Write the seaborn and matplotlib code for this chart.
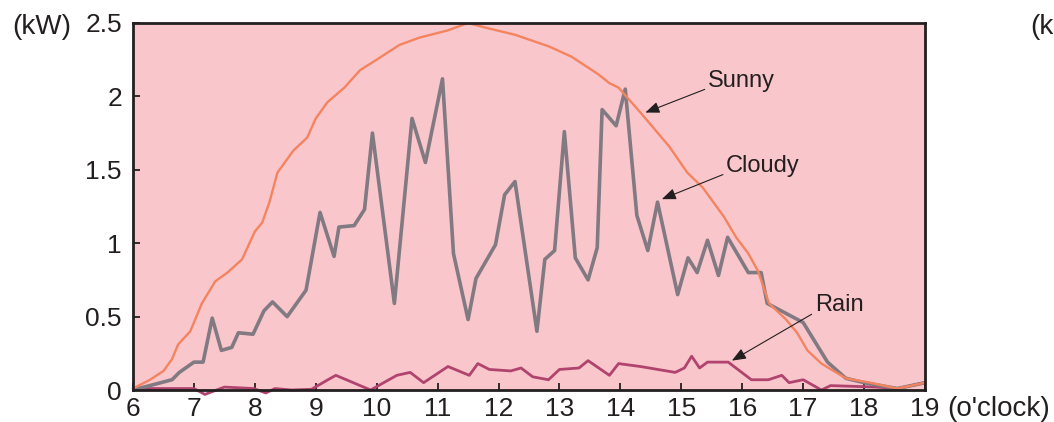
import matplotlib
matplotlib.use('Agg')
import matplotlib.pyplot as plt
import seaborn as sns

# Potencia generada (kW) por hora del dia, tres condiciones de clima
sunny_h = [6.0, 6.28, 6.5, 6.64, 6.74, 6.94, 7.13, 7.35, 7.55, 7.79, 8.0, 8.12, 8.24, 8.37,
           8.63, 8.86, 9.0, 9.19, 9.47, 9.73, 10.0, 10.37, 10.7, 11.17, 11.5, 11.77, 12.27,
           12.83, 13.2, 13.64, 13.82, 13.97, 14.33, 14.8, 15.1, 15.35, 15.7, 15.9, 16.1,
           16.26, 16.44, 16.72, 16.9, 17.07, 17.3, 17.7, 18.1, 18.55, 19.0]
sunny_kw = [0.01, 0.07, 0.13, 0.21, 0.31, 0.40, 0.59, 0.74, 0.80, 0.89, 1.08, 1.14, 1.28, 1.48,
            1.63, 1.72, 1.85, 1.96, 2.06, 2.18, 2.25, 2.35, 2.40, 2.45, 2.50, 2.47, 2.42,
            2.34, 2.27, 2.15, 2.09, 2.06, 1.89, 1.66, 1.48, 1.38, 1.18, 1.04, 0.93,
            0.81, 0.59, 0.48, 0.39, 0.27, 0.18, 0.08, 0.05, 0.01, 0.05]

cloudy_h = [6.0, 6.64, 6.76, 7.0, 7.15, 7.3, 7.45, 7.62, 7.73, 7.97, 8.15, 8.29, 8.53, 8.84,
            9.07, 9.3, 9.38, 9.63, 9.8, 9.93, 10.29, 10.58, 10.8, 11.08, 11.26, 11.5, 11.63,
            11.95, 12.1, 12.27, 12.63, 12.76, 12.92, 13.08, 13.26, 13.47, 13.62, 13.7, 13.93,
            14.08, 14.27, 14.45, 14.61, 14.94, 15.11, 15.26, 15.43, 15.61, 15.76, 16.1, 16.31,
            16.41, 17.0, 17.4, 17.7, 18.0, 18.55, 19.0]
cloudy_kw = [0.0, 0.07, 0.12, 0.19, 0.19, 0.49, 0.27, 0.29, 0.39, 0.38, 0.54, 0.60, 0.50, 0.68,
             1.21, 0.91, 1.11, 1.12, 1.23, 1.75, 0.59, 1.85, 1.55, 2.12, 0.93, 0.48, 0.76,
             0.99, 1.33, 1.42, 0.40, 0.89, 0.95, 1.76, 0.90, 0.75, 0.97, 1.91, 1.80,
             2.05, 1.19, 0.95, 1.28, 0.65, 0.90, 0.80, 1.02, 0.78, 1.04, 0.80, 0.80,
             0.59, 0.46, 0.19, 0.08, 0.05, 0.01, 0.05]

rain_h = [6.0, 7.0, 7.18, 7.5, 7.98, 8.18, 8.33, 8.6, 8.93, 9.2, 9.33, 9.9, 10.33, 10.55,
          10.77, 11.17, 11.52, 11.66, 11.85, 12.2, 12.37, 12.56, 12.82, 13.0, 13.32, 13.47,
          13.82, 13.97, 14.33, 14.9, 15.05, 15.17, 15.3, 15.43, 15.77, 16.15, 16.43, 16.65,
          16.77, 17.0, 17.3, 17.45, 18.2, 18.55, 19.0]
rain_kw = [0.01, 0.01, -0.03, 0.02, 0.01, -0.02, 0.01, 0.0, 0.005, 0.07, 0.10, 0.0, 0.10, 0.12,
           0.05, 0.16, 0.10, 0.18, 0.14, 0.13, 0.15, 0.09, 0.07, 0.14, 0.15, 0.20,
           0.10, 0.18, 0.16, 0.12, 0.15, 0.23, 0.15, 0.19, 0.19, 0.07, 0.07, 0.10,
           0.05, 0.07, 0.0, 0.03, 0.02, 0.01, 0.05]

x_ticks = list(range(6, 20))
y_ticks = [0, 0.5, 1, 1.5, 2, 2.5]
y_labels = ['0', '0.5', '1', '1.5', '2', '2.5']

sns.set_theme(style="white")
plt.rcParams['font.family'] = ['Liberation Sans', 'DejaVu Sans']

fig = plt.figure(figsize=(10.54, 4.22), dpi=100)
ax = fig.add_axes([0.1262, 0.0758, 0.7514, 0.8697])
ax.set_facecolor('#F9C6CB')

sns.lineplot(x=rain_h, y=rain_kw, color='#B0446F', linewidth=2.0, ax=ax, clip_on=False)
sns.lineplot(x=cloudy_h, y=cloudy_kw, color='#827A82', linewidth=2.6, ax=ax)
sns.lineplot(x=sunny_h, y=sunny_kw, color='#F4845F', linewidth=1.7, ax=ax)

ax.set_xlim(6, 19)
ax.set_ylim(0, 2.5)
ax.set_xticks(x_ticks)
ax.set_xticklabels([str(t) for t in x_ticks])
ax.set_yticks(y_ticks)
ax.set_yticklabels(y_labels)
ax.tick_params(axis='both', direction='in', length=5, width=1.3, color='#231F20',
               labelsize=19, labelcolor='#231F20', bottom=True, left=True)
ax.tick_params(axis='x', pad=5)
ax.tick_params(axis='y', pad=8)
for s in ax.spines.values():
    s.set_color('#231F20')
    s.set_linewidth(2.0)
ax.set_xlabel('')
ax.set_ylabel('')

# Etiquetas con flechas
arrow = dict(arrowstyle='-|>,head_length=0.5,head_width=0.2', color='#231F20', lw=0.8,
             shrinkA=0, shrinkB=0)
for txt, tip, pos in [('Sunny', (14.41, 1.89), (0.726, 0.826)),
                      ('Cloudy', (14.68, 1.30), (0.749, 0.594)),
                      ('Rain', (15.83, 0.20), (0.861, 0.215))]:
    a = dict(arrow, relpos=(0, 0.17))
    ax.annotate(txt, xy=tip, xycoords='data', xytext=pos, textcoords='axes fraction',
                ha='left', va='baseline', fontsize=17, color='#231F20', arrowprops=a)

fig.text(12 / 1054, 0.936, '(kW)', fontsize=20, color='#231F20', va='center', ha='left')
fig.text(947 / 1054, 0.030, "(o'clock)", fontsize=20, color='#231F20', va='center', ha='left')
# etiqueta del panel siguiente, cortada en el original
fig.text(1030 / 1054, 0.936, '(k', fontsize=20, color='#231F20', va='center', ha='left')

fig.savefig('out.png', dpi=100, facecolor='white')
